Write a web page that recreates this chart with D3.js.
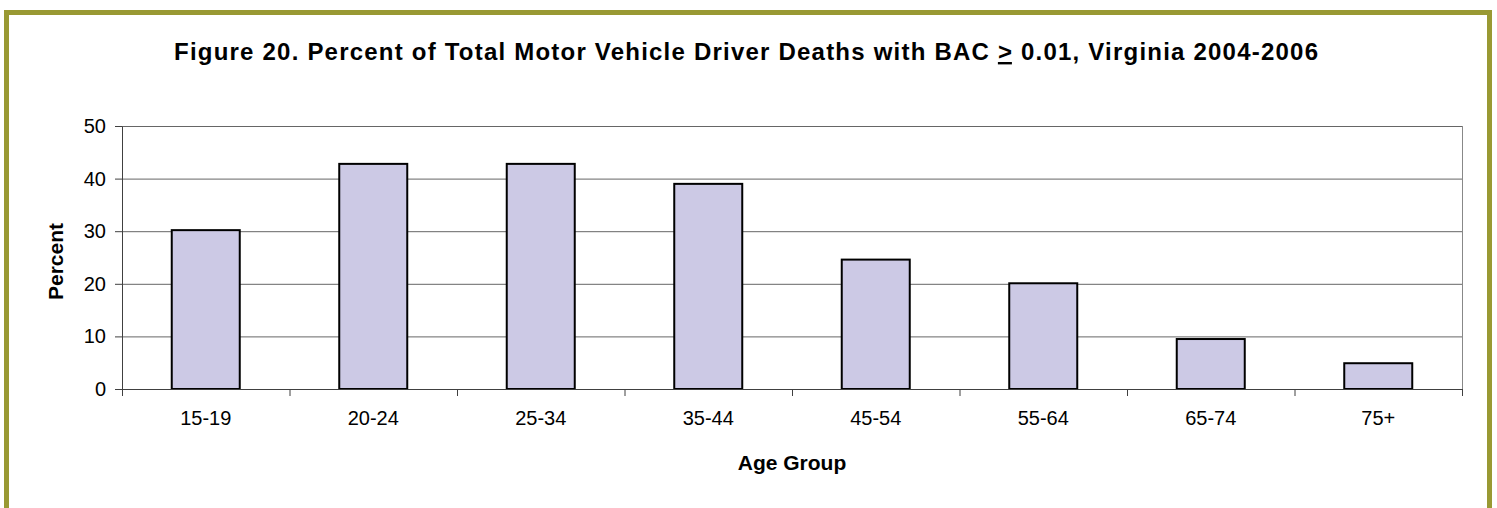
<!DOCTYPE html>
<html>
<head>
<meta charset="utf-8">
<script src="https://cdn.jsdelivr.net/npm/d3@7"></script>
<style>
  body { margin: 0; background: #fff; }
  text { font-family: "Liberation Sans", Arial, sans-serif; }
</style>
</head>
<body>
<div id="chart-area"></div>
<script>
// dados
const ageGroups = ["15-19", "20-24", "25-34", "35-44", "45-54", "55-64", "65-74", "75+"]
const percents = [30.2, 42.8, 42.8, 39.0, 24.6, 20.1, 9.5, 4.9]
const yTicks = [0, 10, 20, 30, 40, 50]

const titleText = "Figure 20. Percent of Total Motor Vehicle Driver Deaths with BAC "
const titleEnd = " 0.01, Virginia 2004-2006"

// margens
const MARGIN = { LEFT: 122, RIGHT: 35, TOP: 126, BOTTOM: 119 }
const WIDTH = 1497 - MARGIN.LEFT - MARGIN.RIGHT
const HEIGHT = 508 - MARGIN.TOP - MARGIN.BOTTOM

const svg = d3.select("#chart-area").append("svg")
  .attr("width", 1497)
  .attr("height", 508)

// moldura verde-oliva
svg.append("rect")
  .attr("x", 6.5)
  .attr("y", 12.5)
  .attr("width", 1483)
  .attr("height", 560)
  .attr("fill", "#fff")
  .attr("stroke", "#999933")
  .attr("stroke-width", 5)

// título
const title = svg.append("text")
  .attr("x", 746)
  .attr("y", 60)
  .attr("text-anchor", "middle")
  .attr("font-size", "24px")
  .attr("font-weight", "bold")
  .attr("textLength", 1144)
  .attr("lengthAdjust", "spacing")
title.append("tspan").text(titleText)
title.append("tspan").attr("text-decoration", "underline").text(">")
title.append("tspan").text(titleEnd)

const g = svg.append("g")
  .attr("transform", `translate(${MARGIN.LEFT}, ${MARGIN.TOP})`)

// escalas
const x = d3.scaleBand()
  .domain(ageGroups)
  .range([0, WIDTH])
  .paddingInner(0.594)
  .paddingOuter(0.297)
const xEdges = d3.scaleLinear().domain([0, ageGroups.length]).range([0, WIDTH])
const y = d3.scaleLinear().domain([0, 50]).range([HEIGHT, 0])

// linhas de grade
g.append("g")
  .attr("class", "grid")
  .call(d3.axisLeft(y).tickValues(yTicks.slice(1)).tickSize(-WIDTH).tickFormat(""))
  .call(a => a.select(".domain").remove())
  .selectAll("line")
  .attr("stroke", "#666")

// borda direita da área do gráfico
g.append("line")
  .attr("x1", WIDTH + 0.5).attr("x2", WIDTH + 0.5)
  .attr("y1", 0).attr("y2", HEIGHT)
  .attr("stroke", "#888")

// barras
g.selectAll("rect.bar")
  .data(percents)
  .enter().append("rect")
  .attr("class", "bar")
  .attr("x", (d, i) => x(ageGroups[i]))
  .attr("y", d => y(d))
  .attr("width", x.bandwidth())
  .attr("height", d => HEIGHT - y(d))
  .attr("fill", "#ccc9e5")
  .attr("stroke", "#000")
  .attr("stroke-width", 2)

// eixo y
const yAxis = g.append("g")
  .call(d3.axisLeft(y).tickValues(yTicks).tickSize(7).tickPadding(9).tickSizeOuter(0))
yAxis.select(".domain").attr("stroke", "#404040")
yAxis.selectAll("line").attr("stroke", "#404040")
yAxis.selectAll("text").attr("font-size", "20px").attr("fill", "#000")
  .attr("font-family", "Liberation Sans, Arial, sans-serif")

// eixo x - marcas nas divisões
const xTickAxis = g.append("g")
  .attr("transform", `translate(0, ${HEIGHT})`)
  .call(d3.axisBottom(xEdges).ticks(ageGroups.length).tickSize(7).tickFormat("").tickSizeOuter(0))
xTickAxis.select(".domain").attr("stroke", "#404040")
xTickAxis.selectAll("line").attr("stroke", "#404040")

// eixo x - rótulos
const xAxis = g.append("g")
  .attr("transform", `translate(0, ${HEIGHT})`)
  .call(d3.axisBottom(x).tickSize(0).tickPadding(22))
xAxis.select(".domain").remove()
xAxis.selectAll("text").attr("font-size", "20px").attr("fill", "#000")
  .attr("font-family", "Liberation Sans, Arial, sans-serif")

// rótulos dos eixos
g.append("text")
  .attr("x", WIDTH / 2)
  .attr("y", HEIGHT + 81)
  .attr("text-anchor", "middle")
  .attr("font-size", "21px")
  .attr("font-weight", "bold")
  .text("Age Group")

g.append("text")
  .attr("transform", "rotate(-90)")
  .attr("x", -(HEIGHT / 2) - 4)
  .attr("y", -59)
  .attr("text-anchor", "middle")
  .attr("font-size", "21px")
  .attr("font-weight", "bold")
  .text("Percent")
</script>
</body>
</html>
